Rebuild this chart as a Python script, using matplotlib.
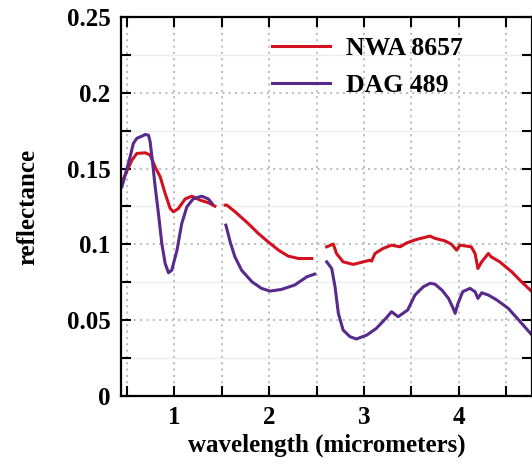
import numpy as np
import matplotlib
matplotlib.use('Agg')
import matplotlib.pyplot as plt
from matplotlib.ticker import MultipleLocator, FuncFormatter

# NWA 8657 spectrum, NaN marks the gaps in the measurement
nwa_x = [0.45, 0.50, 0.555, 0.607, 0.695, 0.747, 0.80, 0.853, 0.905, 0.958, 0.993,
         1.045, 1.116, 1.186, 1.274, 1.36, 1.43, np.nan,
         1.537, 1.555, 1.642, 1.78, 1.887, 1.99, 2.10, 2.20, 2.31, 2.45, np.nan,
         2.607, 2.677, 2.71, 2.78, 2.887, 2.993, 3.063, 3.08, 3.116, 3.20, 3.29, 3.38,
         3.45, 3.555, 3.64, 3.695, 3.747, 3.85, 3.92, 3.976, 4.01, 4.13, 4.17, 4.20,
         4.24, 4.31, 4.34, 4.43, 4.555, 4.66, 4.77]
nwa_y = [0.141, 0.148, 0.1556, 0.160, 0.1604, 0.159, 0.151, 0.1446, 0.1336, 0.1237, 0.1215,
         0.1237, 0.130, 0.1318, 0.1292, 0.1275, 0.1252, np.nan,
         0.1259, 0.1259, 0.1215, 0.1138, 0.1072, 0.1017, 0.0962, 0.0923, 0.0907, 0.0907, np.nan,
         0.0984, 0.1002, 0.094, 0.0885, 0.0868, 0.0885, 0.0896, 0.089, 0.094, 0.0973, 0.0995, 0.0984,
         0.101, 0.1033, 0.1046, 0.1055, 0.104, 0.1024, 0.1002, 0.0962, 0.0995, 0.0984, 0.094, 0.0841,
         0.0885, 0.094, 0.0918, 0.0885, 0.082, 0.0753, 0.0688]

# DAG 489 spectrum
dag_x = [0.45, 0.537, 0.57, 0.607, 0.66, 0.695, 0.73, 0.747, 0.77, 0.80, 0.835, 0.87,
         0.905, 0.94, 0.975, 1.03, 1.08, 1.134, 1.20, 1.29, 1.36, 1.40, np.nan,
         1.545, 1.59, 1.64, 1.71, 1.82, 1.92, 2.01, 2.13, 2.27, 2.40, 2.48, np.nan,
         2.607, 2.66, 2.695, 2.73, 2.78, 2.853, 2.92, 3.03, 3.13, 3.23, 3.29, 3.36,
         3.46, 3.537, 3.624, 3.695, 3.747, 3.82, 3.89, 3.94, 3.96, 3.99, 4.04, 4.116,
         4.17, 4.20, 4.24, 4.31, 4.40, 4.52, 4.63, 4.77]
dag_y = [0.138, 0.158, 0.1666, 0.170, 0.1714, 0.1725, 0.172, 0.1677, 0.1556, 0.138, 0.120, 0.1006,
         0.0875, 0.0813, 0.083, 0.0962, 0.1138, 0.1248, 0.130, 0.1318, 0.130, 0.127, np.nan,
         0.1127, 0.1017, 0.0918, 0.083, 0.0753, 0.071, 0.0692, 0.0703, 0.0732, 0.0787, 0.0804, np.nan,
         0.0885, 0.0841, 0.072, 0.0545, 0.0435, 0.0391, 0.0376, 0.0402, 0.0446, 0.0512, 0.0556, 0.0523,
         0.0567, 0.0666, 0.072, 0.0743, 0.0738, 0.0699, 0.0644, 0.0578, 0.0545, 0.061, 0.0688, 0.071,
         0.0688, 0.0644, 0.0681, 0.0666, 0.0633, 0.0578, 0.0501, 0.0402]

plt.rcParams['font.family'] = ['Liberation Serif', 'DejaVu Serif']
plt.rcParams['font.weight'] = 'bold'

fig = plt.figure(figsize=(5.32, 4.70), dpi=100)
ax = fig.add_axes([121 / 532, 1 - 396 / 470, 411 / 532, 379 / 470])

ax.plot(nwa_x, nwa_y, color='#d1111e', lw=2.2, label='NWA 8657')
ax.plot(dag_x, dag_y, color='#572a8c', lw=2.2, label='DAG 489')

ax.set_xlim(0.44, 4.77)
ax.set_ylim(0, 0.25)

ax.xaxis.set_major_locator(MultipleLocator(1))
ax.xaxis.set_minor_locator(MultipleLocator(0.5))
ax.yaxis.set_major_locator(MultipleLocator(0.05))
ax.yaxis.set_minor_locator(MultipleLocator(0.025))
ax.yaxis.set_major_formatter(FuncFormatter(lambda v, p: '0' if abs(v) < 1e-9 else ('%.2f' % v).rstrip('0')))

ax.grid(which='major', axis='both', color='#b4b4b4', lw=1.2, linestyle=(0, (1.3, 2.5)))
ax.grid(which='minor', axis='x', color='#b4b4b4', lw=1.2, linestyle=(0, (1.3, 2.5)))
ax.grid(which='minor', axis='y', color='#ececec', lw=1.0, linestyle='-')
ax.set_axisbelow(True)

ax.tick_params(which='both', direction='in', top=True, right=True, length=7, width=1.5,
               labelsize=18, pad=7.5)
for s in ax.spines.values():
    s.set_linewidth(1.6)

ax.set_xlabel('wavelength (micrometers)', fontsize=18, fontweight='bold', labelpad=3)
ax.set_ylabel('reflectance', fontsize=18, fontweight='bold', labelpad=20)

ax.legend(loc='upper left', bbox_to_anchor=(272 / 532, 1 - 37 / 470), bbox_transform=fig.transFigure,
          frameon=False, fontsize=18.5, handlelength=2.26, handletextpad=0.62, labelspacing=0.53,
          borderpad=0, borderaxespad=0)

fig.savefig('out.png', dpi=100)
